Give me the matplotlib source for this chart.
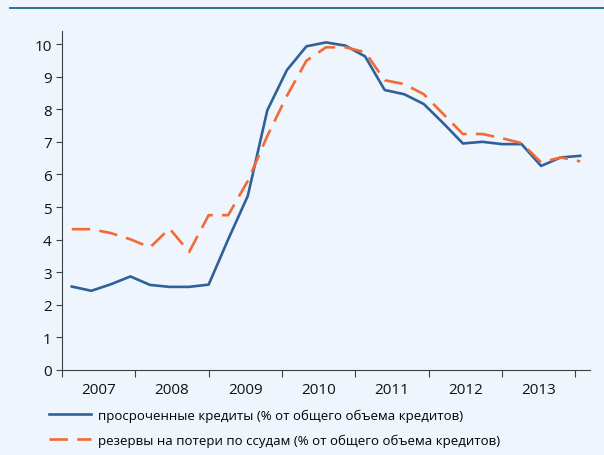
import numpy as np
import matplotlib.pyplot as plt

plt.rcParams['font.family'] = ['Open Sans', 'DejaVu Sans']

# 27 points
overdue = [2.56, 2.43, 2.63, 2.87, 2.61, 2.55, 2.55, 2.62, 4.01, 5.34,
           7.97, 9.20, 9.93, 10.05, 9.95, 9.62, 8.59, 8.46, 8.16, 7.57,
           6.95, 7.00, 6.93, 6.93, 6.26, 6.52, 6.57]
reserves = [4.32, 4.32, 4.20, 4.01, 3.76, 4.34, 3.62, 4.75, 4.75, 5.80,
            7.18, 8.41, 9.49, 9.90, 9.90, 9.75, 8.89, 8.77, 8.46, 7.85,
            7.24, 7.24, 7.11, 6.96, 6.37, 6.52, 6.40]
years = ['2007', '2008', '2009', '2010', '2011', '2012', '2013']
lab1 = 'просроченные кредиты (% от общего объема кредитов)'
lab2 = 'резервы на потери по ссудам (% от общего объема кредитов)'
title = 'Просроченные кредиты и резервы на потери по ссудам (% от общего объема ссуд)'

bg = '#eef5fc'
blue = '#30609a'
orange = '#f26a36'

fig = plt.figure(figsize=(6.04, 4.56), dpi=100, facecolor=bg)
ax = fig.add_axes([62/604, 1-371/456, 528/604, 339/456], facecolor=bg)

x = np.arange(len(overdue))
ax.plot(x, overdue, color=blue, lw=1.9, label=lab1)
ax.plot(x, reserves, color=orange, lw=1.9, dashes=(7, 3.5), label=lab2)

ax.set_xlim(-0.5, len(overdue) - 0.5)
ax.set_ylim(0, 10.4)
ax.set_yticks(range(0, 11))
bounds = -0.5 + 3.75*np.arange(len(years) + 1)
ax.set_xticks(bounds)
ax.set_xticklabels([])
ax.set_xticks(bounds[:-1] + 1.875, minor=True)
ax.set_xticklabels(years, minor=True)
ax.tick_params(axis='x', which='minor', length=0, labelsize=11, pad=9, colors='#111111')
ax.tick_params(axis='x', which='major', length=5, direction='out', color='#404040')
ax.tick_params(axis='y', length=4, labelsize=11, colors='#111111')
ax.tick_params(axis='y', color='#404040')
for s in ['top', 'right']:
    ax.spines[s].set_visible(False)
for s in ['left', 'bottom']:
    ax.spines[s].set_color('#404040')

fig.legend(loc='upper left', bbox_to_anchor=(0.07, 0.116), frameon=False,
           fontsize=9.5, handlelength=3.2, handletextpad=0.5, labelspacing=0.85,
           borderpad=0)

# header rule and title clipped by the top edge (only descenders visible)
fig.add_artist(plt.Line2D([10/604, 1], [1-8.5/456, 1-8.5/456], color='#1b6a8a', lw=1.3))
fig.text(0.99, 1.0 + 2/456, title, ha='right', va='bottom', fontsize=10.5,
         fontweight='bold', color='#1b4f6e')

fig.savefig('out.png', dpi=100, facecolor=bg)
